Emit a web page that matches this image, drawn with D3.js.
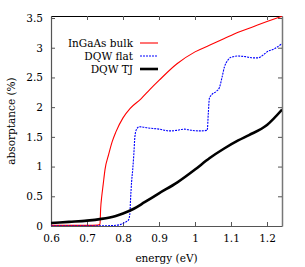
<!DOCTYPE html>
<html>
<head>
<meta charset="utf-8">
<script src="https://cdn.jsdelivr.net/npm/d3@7"></script>
<style>
  body { margin: 0; background: #fff; }
</style>
</head>
<body>
<svg id="chart" width="305" height="267" font-family="'DejaVu Serif', serif"></svg>
<script>
// DATA
var bulkE = [0.6, 0.65, 0.7, 0.73, 0.736, 0.738, 0.741, 0.745, 0.75, 0.76, 0.77, 0.78, 0.8, 0.82, 0.85, 0.875, 0.9, 0.95, 1.0, 1.04, 1.08, 1.12, 1.16, 1.2, 1.242];
var bulkA = [0.01, 0.01, 0.01, 0.015, 0.03, 0.3, 0.5, 0.7, 0.95, 1.2, 1.42, 1.58, 1.82, 1.98, 2.14, 2.3, 2.45, 2.73, 2.93, 3.04, 3.15, 3.26, 3.35, 3.44, 3.53];

var flatE = [0.6, 0.7, 0.76, 0.79, 0.805, 0.815, 0.819, 0.821, 0.824, 0.827, 0.83, 0.833, 0.837, 0.845, 0.87, 0.9, 0.93, 0.95, 0.97, 0.99, 1.01, 1.034, 1.037, 1.04, 1.045, 1.06, 1.068, 1.075, 1.082, 1.09, 1.1, 1.12, 1.14, 1.16, 1.175, 1.19, 1.2, 1.22, 1.242];
var flatA = [0.0, 0.0, 0.005, 0.02, 0.06, 0.1, 0.2, 0.45, 0.75, 0.95, 1.2, 1.5, 1.62, 1.67, 1.65, 1.63, 1.6, 1.61, 1.63, 1.61, 1.6, 1.61, 1.9, 2.15, 2.2, 2.27, 2.33, 2.5, 2.68, 2.78, 2.84, 2.86, 2.85, 2.83, 2.83, 2.88, 2.93, 2.98, 3.07];

var tjE = [0.6, 0.65, 0.7, 0.74, 0.78, 0.8, 0.83, 0.86, 0.9, 0.95, 1.0, 1.04, 1.08, 1.12, 1.15, 1.2, 1.242];
var tjA = [0.05, 0.07, 0.09, 0.12, 0.17, 0.21, 0.29, 0.4, 0.55, 0.73, 0.95, 1.14, 1.3, 1.44, 1.53, 1.7, 1.96];

var xTicks = [0.6, 0.7, 0.8, 0.9, 1.0, 1.1, 1.2];
var yTicks = [0, 0.5, 1, 1.5, 2, 2.5, 3, 3.5];
var seriesNames = ["InGaAs bulk", "DQW flat", "DQW TJ"];

// LAYOUT
var svg = d3.select("#chart");
var mLeft = 51, mRight = 282, mTop = 16, mBottom = 226;
var fs = 10.5;
var serif = "'DejaVu Serif', serif";

var x = d3.scaleLinear().domain([0.6, 1.2417]).range([mLeft, mRight]);
var y = d3.scaleLinear().domain([0, 3.534]).range([mBottom, mTop]);

function pairs(xs, ys) {
    return xs.map(function(d, i) { return [d, ys[i]]; });
}

function fmt(d) { return String(d); }

var line = d3.line()
    .x(function(d) { return x(d[0]); })
    .y(function(d) { return y(d[1]); })
    .curve(d3.curveMonotoneX);

// clip to plot area
svg.append("clipPath").attr("id", "clip")
    .append("rect").attr("x", mLeft).attr("y", mTop)
    .attr("width", mRight - mLeft).attr("height", mBottom - mTop);

var series = [
    {name: seriesNames[0], data: pairs(bulkE, bulkA), color: "#ff0000", width: 1.1, dash: null},
    {name: seriesNames[1], data: pairs(flatE, flatA), color: "#0000ff", width: 1.1, dash: "2,1"},
    {name: seriesNames[2], data: pairs(tjE, tjA), color: "#000000", width: 2.6, dash: null}
];

// AXES (gnuplot style, ticks inward, mirrored)
var xAxis = d3.axisBottom(x).tickValues(xTicks).tickSizeInner(-4).tickSizeOuter(0)
    .tickFormat(fmt).tickPadding(9);
var gx = svg.append("g").attr("transform", "translate(0," + mBottom + ")").call(xAxis);

var yAxis = d3.axisLeft(y).tickValues(yTicks).tickSizeInner(-4).tickSizeOuter(0)
    .tickFormat(fmt).tickPadding(8);
var gy = svg.append("g").attr("transform", "translate(" + mLeft + ",0)").call(yAxis);

var xTop = d3.axisTop(x).tickValues(xTicks).tickSizeInner(-4).tickSizeOuter(0).tickFormat("");
var gxt = svg.append("g").attr("transform", "translate(0," + mTop + ")").call(xTop);

var yRight = d3.axisRight(y).tickValues(yTicks).tickSizeInner(-4).tickSizeOuter(0).tickFormat("");
var gyr = svg.append("g").attr("transform", "translate(" + mRight + ",0)").call(yRight);

[gx, gy].forEach(function(a) {
    a.attr("font-family", serif).attr("font-size", fs);
    a.selectAll("text").attr("fill", "#000").attr("font-family", serif);
    a.selectAll("line").attr("stroke", "#555");
    a.select(".domain").attr("stroke", "#555").attr("stroke-width", 1.2);
});
gxt.selectAll("line").attr("stroke", "#555");
gxt.select(".domain").attr("stroke", "#000");
gyr.selectAll("line").attr("stroke", "#555");
gyr.select(".domain").attr("stroke", "#777").attr("stroke-width", 1.5);

var g = svg.append("g").attr("clip-path", "url(#clip)");
series.forEach(function(s) {
    g.append("path")
        .datum(s.data)
        .attr("d", line)
        .attr("fill", "none")
        .attr("stroke", s.color)
        .attr("stroke-width", s.width)
        .attr("stroke-dasharray", s.dash);
});

// AXIS LABELS
svg.append("text")
    .attr("x", (mLeft + mRight) / 2).attr("y", 262)
    .attr("text-anchor", "middle").attr("font-size", fs).attr("font-family", serif)
    .text("energy (eV)");

svg.append("text")
    .attr("transform", "translate(15," + ((mTop + mBottom) / 2) + ") rotate(-90)")
    .attr("text-anchor", "middle").attr("font-size", fs).attr("font-family", serif)
    .text("absorptance (%)");

// LEGEND
var legendY = [43, 56, 69];
series.forEach(function(s, i) {
    svg.append("text")
        .attr("x", 133).attr("y", legendY[i] + 4)
        .attr("text-anchor", "end").attr("font-size", fs).attr("font-family", serif)
        .text(s.name);
    svg.append("line")
        .attr("x1", 140).attr("x2", 158)
        .attr("y1", legendY[i]).attr("y2", legendY[i])
        .attr("stroke", s.color).attr("stroke-width", s.width)
        .attr("stroke-dasharray", s.dash);
});
</script>
</body>
</html>
